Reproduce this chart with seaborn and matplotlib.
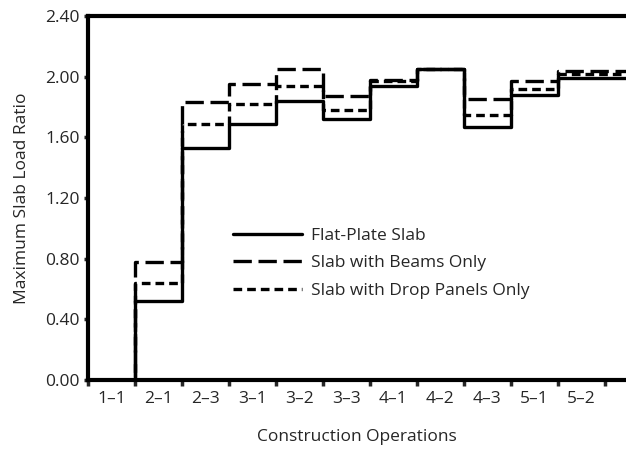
import matplotlib
matplotlib.use("Agg")
import matplotlib.pyplot as plt
import seaborn as sns
import pandas as pd
import numpy as np

# Construction operations (shore/reshore stages) and peak slab load ratios
operations = ["1\u20131", "2\u20131", "2\u20133", "3\u20131", "3\u20132", "3\u20133",
              "4\u20131", "4\u20132", "4\u20133", "5\u20131", "5\u20132"]
flat_plate = [0.00, 0.52, 1.53, 1.69, 1.84, 1.72, 1.94, 2.05, 1.67, 1.88, 1.99]
beams_only = [0.00, 0.78, 1.83, 1.95, 2.05, 1.87, 1.98, 2.05, 1.85, 1.97, 2.04]
drop_panels = [0.00, 0.64, 1.69, 1.82, 1.94, 1.78, 1.97, 2.05, 1.75, 1.92, 2.02]
series_names = ["Flat-Plate Slab", "Slab with Beams Only", "Slab with Drop Panels Only"]
y_ticks = [0.0, 0.4, 0.8, 1.2, 1.6, 2.0, 2.4]

sns.set_style("white")
plt.rcParams["font.family"] = ["Open Sans", "DejaVu Sans"]
FS = 12.5

# Long-form table: each operation occupies one unit interval, drawn as a post step
n = len(operations)
edges = list(range(n)) + [n + 1]
rows = []
for name, vals in zip(series_names, [flat_plate, beams_only, drop_panels]):
    ext = vals + [vals[-1]]
    for x, v in zip(edges, ext):
        rows.append({"x": x, "ratio": v, "series": name})
df = pd.DataFrame(rows)

fig = plt.figure(figsize=(6.26, 4.5), dpi=100)
ax = fig.add_axes([88 / 626, 70 / 450, 538 / 626, 364 / 450])

styles = {
    "Flat-Plate Slab": None,
    "Slab with Beams Only": (5.5, 2.0),
    "Slab with Drop Panels Only": (2.6, 1.5),
}
for name in series_names:
    dash = styles[name]
    sub = df[df["series"] == name]
    line = sns.lineplot(data=sub, x="x", y="ratio", ax=ax, color="black", lw=2.4,
                        drawstyle="steps-post", label=name, legend=False).lines[-1]
    if dash is not None:
        line.set_dashes(dash)

ax.set_xlim(0, 538 / 47)
ax.set_ylim(0, 2.4)

# Tick marks at operation boundaries, labels centred in each interval
ax.set_xticks(np.arange(0, n + 1))
ax.set_xticklabels([])
ax.set_xticks(np.arange(n) + 0.5, minor=True)
ax.set_xticklabels(operations, minor=True, fontsize=FS)
ax.tick_params(axis="x", which="minor", length=0, pad=8)
ax.tick_params(axis="x", which="major", direction="out", length=4, width=2.5, bottom=True)
ax.set_yticks(y_ticks)
ax.set_yticklabels([f"{t:.2f}" for t in y_ticks], fontsize=FS)
ax.tick_params(axis="y", direction="out", length=3, width=2.5, left=True, pad=3)

for side in ["left", "bottom", "top"]:
    ax.spines[side].set_linewidth(3)
    ax.spines[side].set_color("black")
ax.spines["right"].set_visible(False)

ax.set_xlabel("Construction Operations", fontsize=FS, labelpad=16)
ax.set_ylabel("Maximum Slab Load Ratio", fontsize=FS, labelpad=11)

handles = ax.get_lines()[:3]
ax.legend(handles, series_names, loc="upper left", bbox_to_anchor=(0.24, 0.462),
          frameon=False, fontsize=FS, handlelength=4.0, handletextpad=0.5,
          labelspacing=0.66)

fig.savefig("out.png", dpi=100)
